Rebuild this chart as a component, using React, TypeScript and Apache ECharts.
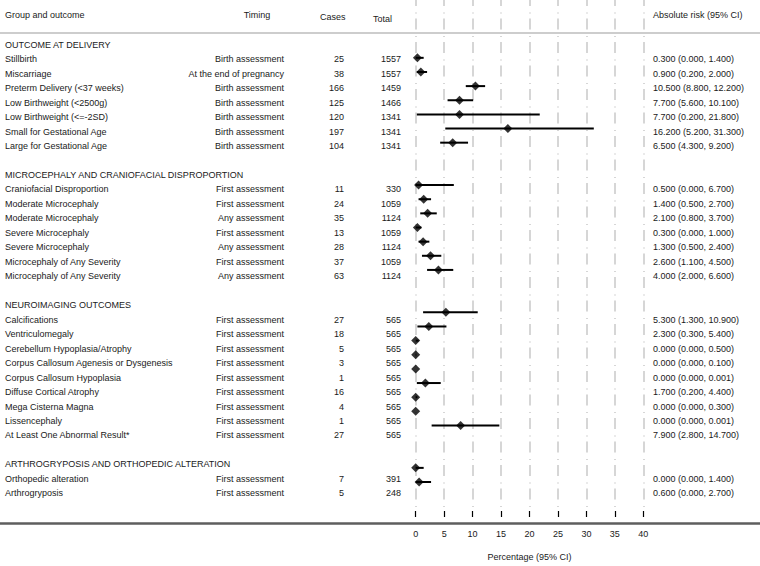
import React, { useEffect, useRef } from "react";
import * as echarts from "echarts";

const groupHeaders = [
  "OUTCOME AT DELIVERY",
  "MICROCEPHALY AND CRANIOFACIAL DISPROPORTION",
  "NEUROIMAGING OUTCOMES",
  "ARTHROGRYPOSIS AND ORTHOPEDIC ALTERATION",
];

const outcomeGroup = [0, 0, 0, 0, 0, 0, 0, 1, 1, 1, 1, 1, 1, 1, 2, 2, 2, 2, 2, 2, 2, 2, 2, 3, 3];

const outcomeNames = [
  "Stillbirth",
  "Miscarriage",
  "Preterm Delivery (<37 weeks)",
  "Low Birthweight (<2500g)",
  "Low Birthweight (<=-2SD)",
  "Small for Gestational Age",
  "Large for Gestational Age",
  "Craniofacial Disproportion",
  "Moderate Microcephaly",
  "Moderate Microcephaly",
  "Severe Microcephaly",
  "Severe Microcephaly",
  "Microcephaly of Any Severity",
  "Microcephaly of Any Severity",
  "Calcifications",
  "Ventriculomegaly",
  "Cerebellum Hypoplasia/Atrophy",
  "Corpus Callosum Agenesis or Dysgenesis",
  "Corpus Callosum Hypoplasia",
  "Diffuse Cortical Atrophy",
  "Mega Cisterna Magna",
  "Lissencephaly",
  "At Least One Abnormal Result*",
  "Orthopedic alteration",
  "Arthrogryposis",
];

const timings = [
  "Birth assessment",
  "At the end of pregnancy",
  "Birth assessment",
  "Birth assessment",
  "Birth assessment",
  "Birth assessment",
  "Birth assessment",
  "First assessment",
  "First assessment",
  "Any assessment",
  "First assessment",
  "Any assessment",
  "First assessment",
  "Any assessment",
  "First assessment",
  "First assessment",
  "First assessment",
  "First assessment",
  "First assessment",
  "First assessment",
  "First assessment",
  "First assessment",
  "First assessment",
  "First assessment",
  "First assessment",
];

const cases = [25, 38, 166, 125, 120, 197, 104, 11, 24, 35, 13, 28, 37, 63, 27, 18, 5, 3, 1, 16, 4, 1, 27, 7, 5];
const totals = [1557, 1557, 1459, 1466, 1341, 1341, 1341, 330, 1059, 1124, 1059, 1124, 1059, 1124, 565, 565, 565, 565, 565, 565, 565, 565, 565, 391, 248];
const estimates = [0.3, 0.9, 10.5, 7.7, 7.7, 16.2, 6.5, 0.5, 1.4, 2.1, 0.3, 1.3, 2.6, 4.0, 5.3, 2.3, 0, 0, 0, 1.7, 0, 0, 7.9, 0, 0.6];
const lowers = [0, 0.2, 8.8, 5.6, 0.2, 5.2, 4.3, 0, 0.5, 0.8, 0, 0.5, 1.1, 2.0, 1.3, 0.3, 0, 0, 0, 0.2, 0, 0, 2.8, 0, 0];
const uppers = [1.4, 2.0, 12.2, 10.1, 21.8, 31.3, 9.2, 6.7, 2.7, 3.7, 1.0, 2.4, 4.5, 6.6, 10.9, 5.4, 0.5, 0.1, 0.001, 4.4, 0.3, 0.001, 14.7, 1.4, 2.7];

const columnHeaders = ["Group and outcome", "Timing", "Cases", "Total", "Absolute risk (95% CI)"];
const xTicks = [0, 5, 10, 15, 20, 25, 30, 35, 40];

const FONT = "'Liberation Sans', Arial, Helvetica, sans-serif";
const TEXT_COLOR = "#1a1a1a";

export default function App() {
  const ref = useRef<HTMLDivElement>(null);

  useEffect(() => {
    document.body.style.margin = "0";
    if (!ref.current) return;
    const chart = echarts.init(ref.current, null, { renderer: "svg" });

    const headerRows: number[] = [];
    const outcomeRows: number[] = [];
    let r = 0;
    groupHeaders.forEach((_, g) => {
      headerRows.push(r);
      r++;
      outcomeGroup.forEach((og, i) => {
        if (og === g) {
          outcomeRows[i] = r;
          r++;
        }
      });
      r++;
    });

    const fmt = (v: number) => v.toFixed(3);

    const colName = 5;
    const colTiming = 284;
    const colCases = 344;
    const colTotal = 401;
    const colRisk = 653;

    type T = { x: number; row: number; text: string; align: string };
    const texts: T[] = [];
    texts.push({ x: colName, row: -2.05, text: columnHeaders[0], align: "left" });
    texts.push({ x: 257, row: -2.05, text: columnHeaders[1], align: "center" });
    texts.push({ x: 345.5, row: -1.92, text: columnHeaders[2], align: "right" });
    texts.push({ x: 373, row: -1.78, text: columnHeaders[3], align: "left" });
    texts.push({ x: colRisk, row: -2.05, text: columnHeaders[4], align: "left" });
    groupHeaders.forEach((h, g) => {
      texts.push({ x: colName, row: headerRows[g], text: h, align: "left" });
    });
    outcomeNames.forEach((n, i) => {
      const row = outcomeRows[i];
      texts.push({ x: colName, row, text: n, align: "left" });
      texts.push({ x: colTiming, row, text: timings[i], align: "right" });
      texts.push({ x: colCases, row, text: String(cases[i]), align: "right" });
      texts.push({ x: colTotal, row, text: String(totals[i]), align: "right" });
      texts.push({
        x: colRisk,
        row,
        text: `${fmt(estimates[i])} (${fmt(lowers[i])}, ${fmt(uppers[i])})`,
        align: "left",
      });
    });

    const ROW_MIN = -3.09;
    const ROW_MAX = 33.05;

    const option: any = {
      animation: false,
      grid: [
        { left: 415.7, right: 116.7, top: 0, bottom: 43 },
        { left: 0, right: 0, top: 0, bottom: 43 },
      ],
      xAxis: [
        {
          type: "value",
          gridIndex: 0,
          position: "bottom",
          min: 0,
          max: 40,
          interval: 5,
          axisLine: { show: false, onZero: false },
          axisTick: { show: true, length: 6, lineStyle: { color: "#000", width: 1.2 } },
          axisLabel: {
            color: TEXT_COLOR,
            fontSize: 9,
            fontFamily: FONT,
            margin: 18,
            formatter: (v: number) => (xTicks.includes(v) ? String(v) : ""),
          },
          splitLine: {
            show: true,
            lineStyle: { color: "#d6d6d6", width: 2, type: [11, 6.5, 1, 5], dashOffset: 5 },
          },
          name: "Percentage (95% CI)",
          nameLocation: "middle",
          nameGap: 41,
          nameTextStyle: { color: TEXT_COLOR, fontSize: 9, fontFamily: FONT },
        },
        {
          type: "value",
          gridIndex: 1,
          position: "bottom",
          min: 0,
          max: 760,
          axisLine: { show: true, onZero: false, lineStyle: { color: "#5e5e5e", width: 2.5 } },
          axisTick: { show: false },
          axisLabel: { show: false },
          splitLine: { show: false },
        },
      ],
      yAxis: [
        { type: "value", gridIndex: 0, inverse: true, min: ROW_MIN, max: ROW_MAX, show: false },
        { type: "value", gridIndex: 1, inverse: true, min: ROW_MIN, max: ROW_MAX, show: false },
      ],
      series: [
        {
          type: "custom",
          name: "headerRule",
          xAxisIndex: 1,
          yAxisIndex: 1,
          silent: true,
          data: [[0, -0.81]],
          encode: { x: 0, y: 1 },
          renderItem: (params: any, api: any) => {
            const a = api.coord([0, api.value(1)]);
            const b = api.coord([760, api.value(1)]);
            return {
              type: "line",
              shape: { x1: a[0], y1: a[1], x2: b[0], y2: b[1] },
              style: { stroke: "#bdbdbd", lineWidth: 1.5 },
            };
          },
        },
        {
          type: "custom",
          name: "ci",
          xAxisIndex: 0,
          yAxisIndex: 0,
          silent: true,
          data: outcomeNames.map((_, i) => [lowers[i], uppers[i], outcomeRows[i]]),
          encode: { x: [0, 1], y: 2 },
          renderItem: (params: any, api: any) => {
            const a = api.coord([api.value(0), api.value(2)]);
            const b = api.coord([api.value(1), api.value(2)]);
            return {
              type: "line",
              shape: { x1: a[0], y1: a[1], x2: b[0], y2: b[1] },
              style: { stroke: "#000", lineWidth: 2 },
            };
          },
        },
        {
          type: "scatter",
          name: "estimate",
          xAxisIndex: 0,
          yAxisIndex: 0,
          symbol: "diamond",
          symbolSize: [9, 9],
          itemStyle: { color: "#000" },
          silent: true,
          data: outcomeNames.map((_, i) => [estimates[i], outcomeRows[i]]),
        },
        {
          type: "custom",
          name: "texts",
          xAxisIndex: 1,
          yAxisIndex: 1,
          silent: true,
          data: texts.map((t) => [t.x, t.row]),
          encode: { x: 0, y: 1 },
          renderItem: (params: any, api: any) => {
            const t = texts[params.dataIndex];
            const p = api.coord([t.x, t.row]);
            return {
              type: "text",
              x: p[0],
              y: p[1],
              style: {
                text: t.text,
                align: t.align,
                verticalAlign: "middle",
                fontSize: 9,
                fontFamily: FONT,
                fill: TEXT_COLOR,
              },
            };
          },
        },
      ],
    };

    chart.setOption(option);
    return () => chart.dispose();
  }, []);

  return <div ref={ref} style={{ width: 760, height: 566 }} />;
}
